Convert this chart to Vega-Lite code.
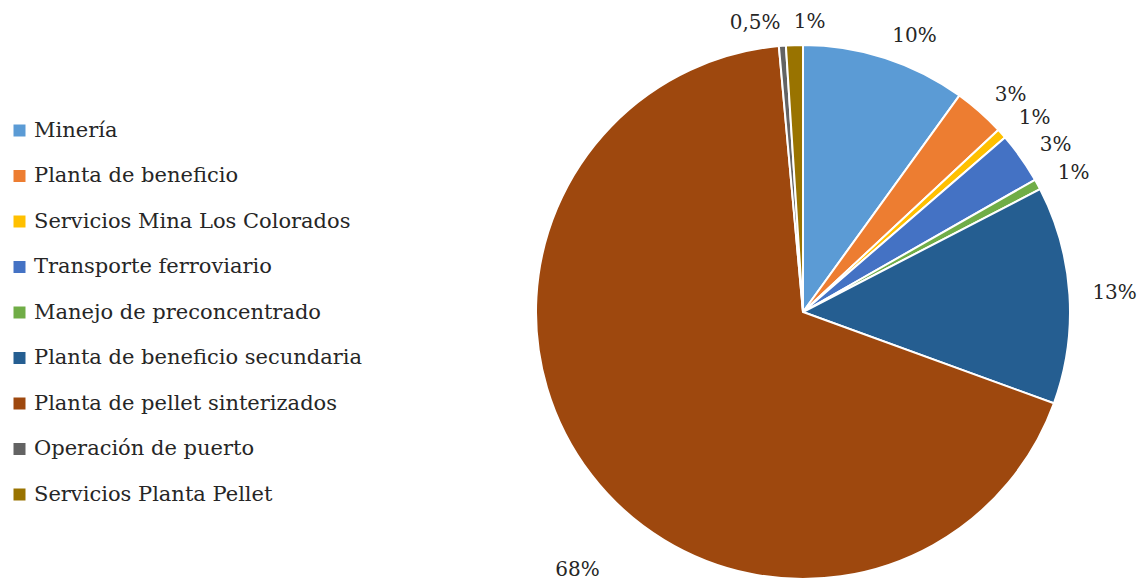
{
  "$schema": "https://vega.github.io/schema/vega-lite/v6.json",
  "width": 534,
  "height": 534,
  "autosize": {"type": "none"},
  "padding": {"left": 536, "top": 45, "right": 67, "bottom": 3},
  "background": "white",
  "config": {
    "view": {"stroke": null},
    "font": "DejaVu Serif",
    "text": {"font": "DejaVu Serif"}
  },
  "data": {
    "values": [
      {"categoria": "Minería", "valor": 9.95, "etiqueta": "10%", "orden": 1},
      {"categoria": "Planta de beneficio", "valor": 3.1, "etiqueta": "3%", "orden": 2},
      {"categoria": "Servicios Mina Los Colorados", "valor": 0.6, "etiqueta": "1%", "orden": 3},
      {"categoria": "Transporte ferroviario", "valor": 3.1, "etiqueta": "3%", "orden": 4},
      {"categoria": "Manejo de preconcentrado", "valor": 0.63, "etiqueta": "1%", "orden": 5},
      {"categoria": "Planta de beneficio secundaria", "valor": 13.16, "etiqueta": "13%", "orden": 6},
      {"categoria": "Planta de pellet sinterizados", "valor": 67.98, "etiqueta": "68%", "orden": 7},
      {"categoria": "Operación de puerto", "valor": 0.42, "etiqueta": "0,5%", "orden": 8},
      {"categoria": "Servicios Planta Pellet", "valor": 1.02, "etiqueta": "1%", "orden": 9}
    ]
  },
  "encoding": {
    "theta": {"field": "valor", "type": "quantitative", "stack": true},
    "order": {"field": "orden", "type": "quantitative", "sort": "ascending"}
  },
  "layer": [
    {
      "mark": {"type": "arc", "stroke": "white", "strokeWidth": 2},
      "encoding": {
        "color": {
          "field": "categoria",
          "type": "nominal",
          "scale": {
            "domain": ["Minería", "Planta de beneficio", "Servicios Mina Los Colorados", "Transporte ferroviario", "Manejo de preconcentrado", "Planta de beneficio secundaria", "Planta de pellet sinterizados", "Operación de puerto", "Servicios Planta Pellet"],
            "range": ["#5B9BD5", "#ED7D31", "#FFC000", "#4472C4", "#70AD47", "#255E91", "#9E480E", "#636363", "#997300"]
          },
          "legend": {
            "orient": "none",
            "legendX": -527,
            "legendY": 75,
            "title": null,
            "symbolType": "square",
            "symbolSize": 144,
            "symbolStrokeWidth": 0,
            "labelFont": "DejaVu Serif",
            "labelFontSize": 21,
            "labelColor": "#262626",
            "labelOffset": 4,
            "rowPadding": 23.5,
            "labelLimit": 500
          }
        }
      }
    },
    {
      "mark": {"type": "text", "radius": 290, "align": "left", "baseline": "middle", "fontSize": 20, "color": "#262626", "font": "DejaVu Serif"},
      "encoding": {"text": {"condition": {"test": "datum.orden == 7 || datum.orden == 8", "value": ""}, "field": "etiqueta"}}
    },
    {
      "mark": {"type": "text", "radius": 290, "align": "right", "baseline": "middle", "fontSize": 20, "color": "#262626", "font": "DejaVu Serif"},
      "encoding": {"text": {"condition": {"test": "datum.orden != 8", "value": ""}, "field": "etiqueta"}}
    },
    {
      "mark": {"type": "text", "radius": 330, "dx": 36, "dy": 57, "align": "center", "baseline": "middle", "fontSize": 20, "color": "#262626", "font": "DejaVu Serif"},
      "encoding": {"text": {"condition": {"test": "datum.orden != 7", "value": ""}, "field": "etiqueta"}}
    }
  ]
}
